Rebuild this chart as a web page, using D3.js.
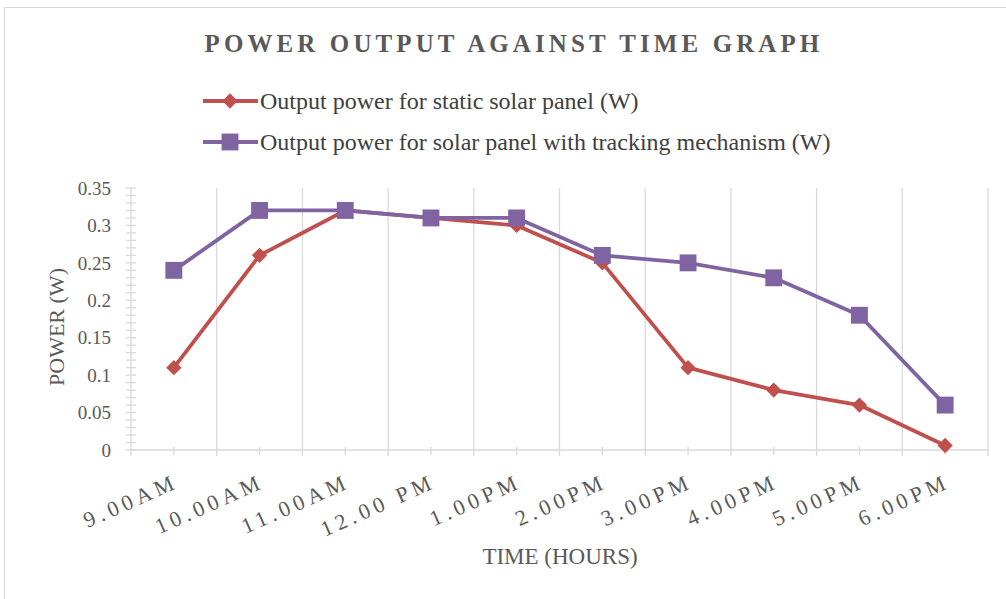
<!DOCTYPE html>
<html>
<head>
<meta charset="utf-8">
<script src="https://cdn.jsdelivr.net/npm/d3@7"></script>
<style>
  body { margin: 0; background: #fff; }
  text { font-family: "Liberation Serif", "Times New Roman", serif; }
</style>
</head>
<body>
<div id="chart"></div>
<script>
// chart data
const times = ["9.00AM", "10.00AM", "11.00AM", "12.00 PM", "1.00PM", "2.00PM", "3.00PM", "4.00PM", "5.00PM", "6.00PM"];
const staticPower = [0.11, 0.26, 0.32, 0.31, 0.30, 0.25, 0.11, 0.08, 0.06, 0.006];
const trackingPower = [0.24, 0.32, 0.32, 0.31, 0.31, 0.26, 0.25, 0.23, 0.18, 0.06];
const yTicks = [0, 0.05, 0.1, 0.15, 0.2, 0.25, 0.3, 0.35];
const seriesNames = ["Output power for static solar panel (W)", "Output power for solar panel with tracking mechanism (W)"];

const W = 1006, H = 599;
const margin = {top: 188, right: 18, bottom: 149, left: 131};
const width = W - margin.left - margin.right;
const height = H - margin.top - margin.bottom;

const svg = d3.select("#chart").append("svg")
    .attr("width", W)
    .attr("height", H);

// outer chart border
svg.append("rect")
    .attr("x", 4.5).attr("y", 7.5)
    .attr("width", W + 10).attr("height", H + 10)
    .attr("fill", "none").attr("stroke", "#d9d9d9");

const g = svg.append("g").attr("transform", `translate(${margin.left},${margin.top})`);

const x = d3.scaleBand().domain(times).range([0, width]);
const y = d3.scaleLinear().domain([0, 0.35]).range([height, 0]);

// vertical gridlines at category boundaries
const bounds = d3.range(times.length + 1).map(i => i * x.step());
g.selectAll(".grid").data(bounds.slice(1)).join("line")
    .attr("x1", d => d).attr("x2", d => d)
    .attr("y1", 0).attr("y2", height + 6)
    .attr("stroke", "#d9d9d9").attr("stroke-width", 1.3);

// x axis line + ticks at centers
g.append("line").attr("x1", 0).attr("x2", width)
    .attr("y1", height).attr("y2", height)
    .attr("stroke", "#d9d9d9").attr("stroke-width", 1.3);
g.selectAll(".ctick").data(times).join("line")
    .attr("x1", d => x(d) + x.bandwidth() / 2).attr("x2", d => x(d) + x.bandwidth() / 2)
    .attr("y1", height - 3).attr("y2", height + 5)
    .attr("stroke", "#d9d9d9").attr("stroke-width", 1.3);

// y axis line with minor ticks
g.append("line").attr("x1", 0).attr("x2", 0)
    .attr("y1", 0).attr("y2", height + 6)
    .attr("stroke", "#d9d9d9").attr("stroke-width", 1.3);
g.selectAll(".ytick").data(d3.range(0, 36).map(i => i / 100)).join("line")
    .attr("x1", -5).attr("x2", 5)
    .attr("y1", d => y(d)).attr("y2", d => y(d))
    .attr("stroke", "#d9d9d9").attr("stroke-width", 1.3);

// y tick labels
g.selectAll(".ylab").data(yTicks).join("text")
    .attr("x", -20).attr("y", d => y(d))
    .attr("dy", "0.35em")
    .attr("text-anchor", "end")
    .attr("font-size", 19).attr("fill", "#595959")
    .text(d => d);

// x tick labels (rotated)
g.selectAll(".xlab").data(times).join("text")
    .attr("transform", d => `translate(${x(d) + x.bandwidth() / 2 + 6},${height + 37}) rotate(-24)`)
    .attr("text-anchor", "end")
    .attr("font-size", 22).attr("letter-spacing", 4.5).attr("fill", "#595959")
    .text(d => d);

// axis titles
svg.append("text")
    .attr("x", 560).attr("y", 564)
    .attr("text-anchor", "middle")
    .attr("font-size", 23).attr("fill", "#595959")
    .text("TIME (HOURS)");
svg.append("text")
    .attr("transform", "translate(64,327) rotate(-90)")
    .attr("text-anchor", "middle")
    .attr("font-size", 22).attr("fill", "#595959")
    .text("POWER (W)");

// chart title
svg.append("text")
    .attr("x", 514).attr("y", 52)
    .attr("text-anchor", "middle")
    .attr("font-size", 25).attr("font-weight", "bold")
    .attr("letter-spacing", 4.1).attr("fill", "#595959")
    .text("POWER OUTPUT AGAINST TIME GRAPH");

const colors = ["#c0504d", "#8064a2"];
const line = d3.line()
    .x((d, i) => x(times[i]) + x.bandwidth() / 2)
    .y(d => y(d));

const diamond = d3.symbol().type(d3.symbolDiamond2).size(150);
const square = d3.symbol().type(d3.symbolSquare).size(285);

[staticPower, trackingPower].forEach((vals, k) => {
    g.append("path").datum(vals)
        .attr("d", line)
        .attr("fill", "none")
        .attr("stroke", colors[k]).attr("stroke-width", 3.8)
        .attr("stroke-linejoin", "round");
    g.selectAll(".m" + k).data(vals).join("path")
        .attr("transform", (d, i) => `translate(${x(times[i]) + x.bandwidth() / 2},${y(d)})`)
        .attr("d", k === 0 ? diamond : square)
        .attr("fill", colors[k]);
});

// legend
seriesNames.forEach((name, k) => {
    const ly = 101 + k * 41;
    const lg = svg.append("g");
    lg.append("line").attr("x1", 203).attr("x2", 258)
        .attr("y1", ly).attr("y2", ly)
        .attr("stroke", colors[k]).attr("stroke-width", 3.8);
    lg.append("path")
        .attr("transform", `translate(230,${ly})`)
        .attr("d", k === 0 ? diamond : square)
        .attr("fill", colors[k]);
    lg.append("text")
        .attr("x", 260).attr("y", ly)
        .attr("dy", "0.35em")
        .attr("font-size", 24).attr("fill", "#404040")
        .text(name);
});
</script>
</body>
</html>
